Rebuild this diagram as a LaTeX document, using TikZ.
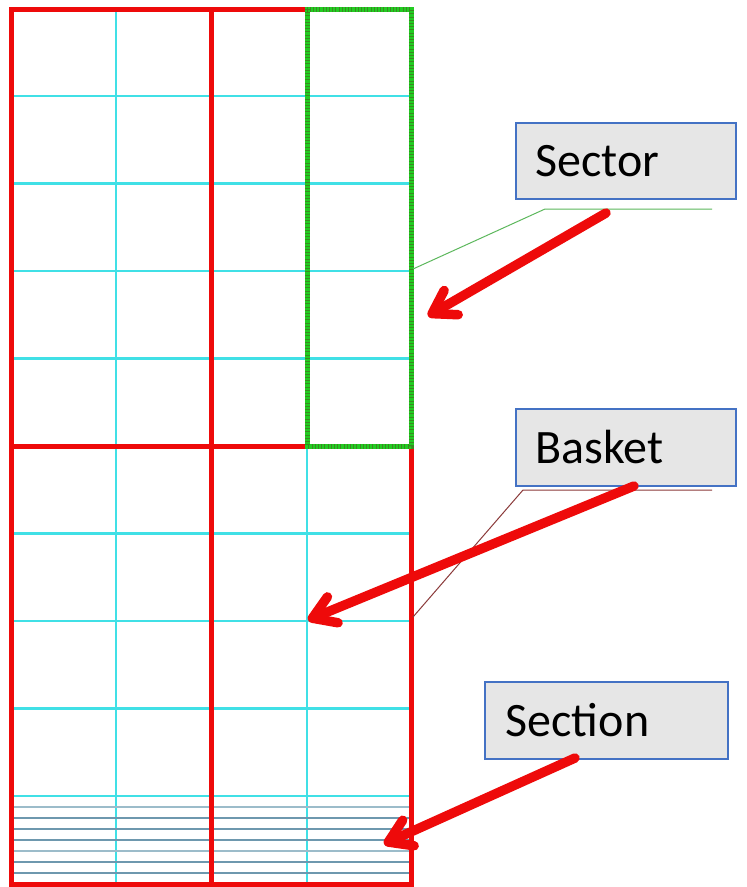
\documentclass[tikz,border=0pt]{standalone}
\usepackage{fontspec}
\setmainfont{Carlito}
\usetikzlibrary{arrows.meta}
\definecolor{gridred}{HTML}{EE0A0A}
\definecolor{gridcyan}{HTML}{40E0E6}
\definecolor{finelight}{HTML}{9CBCCA}
\definecolor{finedark}{HTML}{6E98AE}
\definecolor{sectorgreen}{HTML}{22CC22}
\definecolor{sectortick}{HTML}{3A8A20}
\definecolor{boxfill}{HTML}{E6E6E6}
\definecolor{boxline}{HTML}{4472C4}
\definecolor{leadgreen}{HTML}{5CB85C}
\definecolor{leadred}{HTML}{8B3A3A}
\begin{document}
\begin{tikzpicture}[x=1pt,y=-1pt,
  cyanline/.style={gridcyan,line width=2.5pt},
  fineline/.style={line width=1.3pt},
  redframe/.style={gridred,line width=5pt},
  labelbox/.style={draw=boxline,fill=boxfill,line width=1.5pt,anchor=north west,
     inner xsep=20pt,inner ysep=0pt,align=left,
     font=\fontsize{48}{58}\selectfont},
  pointer/.style={gridred,line width=9.5pt,line cap=round,
     -{Straight Barb[length=22pt,width=28pt,round]}},
]
\useasboundingbox (0,0) rectangle (747,887);
\fill[white] (0,0) rectangle (747,887);

% fine cyan grid
\foreach \y in {96,183.5,271,358.5,533.5,621,708.5,796}
  \draw[cyanline] (11,\y) -- (411,\y);
\foreach \x in {116,307}
  \draw[cyanline] (\x,9) -- (\x,884);

% thin section lines at the bottom
\foreach \y/\c in {807/finelight,818/finedark,829/finedark,840/finedark,851/finelight,862/finedark,873/finedark}
  \draw[fineline,\c] (11,\y) -- (411,\y);

% red baskets
\draw[redframe] (11,9) rectangle (411,884);
\draw[redframe] (211,9) -- (211,884);
\draw[redframe] (11,446) -- (411,446);

% green sector outline
\draw[sectorgreen,line width=5pt] (307,9) rectangle (411,446);
\draw[sectortick,line width=5pt,dash pattern=on 0.8pt off 2.4pt] (307,9) rectangle (411,446);

% label boxes
\node[labelbox,text width=180pt,minimum height=76pt] (sector) at (515,122) {Sector};
\node[labelbox,text width=180pt,minimum height=77pt] (basket) at (515,408) {Basket};
\node[labelbox,text width=201pt,inner xsep=21pt,minimum height=77pt] (section) at (484,681) {Section};

% leader lines
\coordinate (gA) at (413,269);
\coordinate (gB) at (545,209);
\coordinate (gC) at (712,209);
\draw[leadgreen,line width=1pt] (gA) -- (gB) -- (gC);
\coordinate (rA) at (413,617);
\coordinate (rB) at (523,490);
\coordinate (rC) at (712,490);
\draw[leadred,line width=1pt] (rA) -- (rB) -- (rC);

% pointing arrows
\coordinate (s1) at (606,213);
\coordinate (t1) at (428,316);
\coordinate (s2) at (634,486);
\coordinate (t2) at (308,620);
\coordinate (s3) at (575,758);
\coordinate (t3) at (384,844);
\draw[pointer] (s1) -- (t1);
\draw[pointer] (s2) -- (t2);
\draw[pointer] (s3) -- (t3);
\end{tikzpicture}
\end{document}
